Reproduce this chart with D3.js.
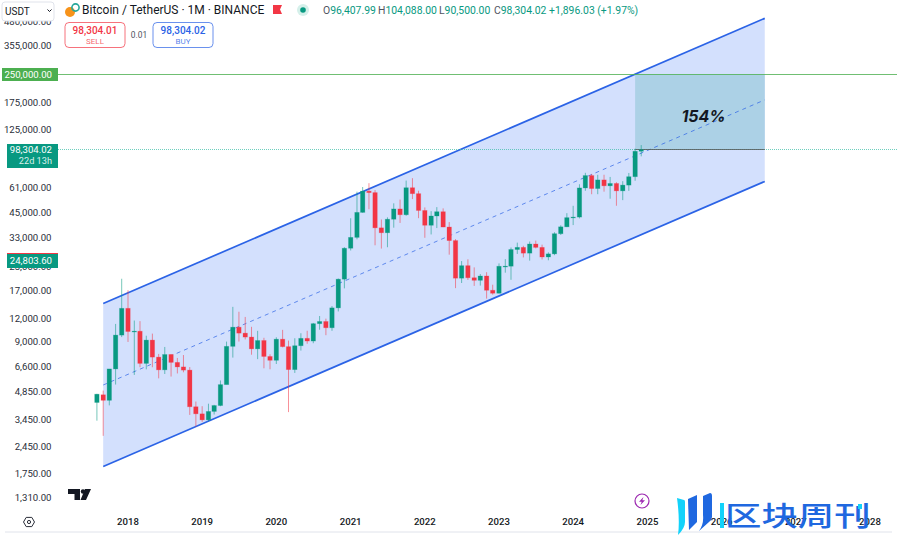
<!DOCTYPE html>
<html>
<head>
<meta charset="utf-8">
<script src="https://cdn.jsdelivr.net/npm/d3@7"></script>
<style>
  html, body { margin: 0; background: #fff; }
  svg { display: block; font-family: Roboto, "Liberation Sans", sans-serif; }
</style>
</head>
<body>
<svg id="chart" width="897" height="537"></svg>
<script>
// monthly candles, Aug 2017 to Dec 2024
const firstMonth = '2017-08-01';
const opens = [4261, 4689, 4378, 6463, 9837,
  13715, 10285, 10325, 6922, 9246, 7485, 6391, 7735, 7011, 6626, 6369, 4041,
  3701, 3434, 3814, 4102, 5320, 8555, 10854, 10080, 9600, 8293, 9199, 7546,
  7195, 9352, 8523, 6410, 8620, 9448, 9138, 11335, 11649, 10776, 13791, 19698,
  28923, 33092, 45134, 58739, 57697, 37253, 35045, 41461, 47100, 43820, 61299, 56950,
  46216, 38466, 43160, 45510, 37630, 31801, 19942, 23296, 20050, 19422, 20490, 17165,
  16541, 23125, 23141, 28465, 29233, 27210, 30472, 29232, 25940, 26963, 34639, 37723,
  42283, 42580, 61130, 71280, 60672, 67540, 62772, 64628, 58974, 63327, 70292, 96407.99];
const highs = [4745, 4939, 6448, 11300, 19798,
  17176, 11786, 11700, 9759, 10020, 7786, 8491, 7750, 7410, 7680, 6615, 4312,
  4069, 4198, 4140, 5600, 9074, 13970, 13147, 12325, 10905, 10370, 9513, 7750,
  9575, 10500, 9189, 9460, 10067, 10380, 11444, 12468, 12067, 14100, 19863, 29300,
  41950, 58352, 61844, 64854, 59500, 41330, 42448, 50500, 52920, 67000, 69000, 59053,
  47990, 45821, 48190, 47444, 40023, 32400, 24668, 25214, 22799, 20988, 21480, 18387,
  23960, 25250, 29184, 31000, 29820, 31431, 31804, 30244, 27483, 35280, 38450, 44700,
  48969, 64000, 73777, 72797, 71980, 71998, 70079, 65659, 66498, 73620, 99588, 104088];
const lows = [3400, 2817, 4110, 5325, 9600,
  9035, 6000, 6600, 6430, 6600, 5750, 6070, 5880, 6111, 6200, 3652, 3156,
  3349, 3373, 3670, 4067, 5350, 7440, 9080, 9320, 7710, 7300, 6515, 6435,
  6871, 8445, 3782, 6150, 8117, 8833, 8893, 10518, 9825, 10374, 13195, 17572,
  28130, 32296, 44950, 46930, 30000, 28805, 29278, 37332, 39600, 43283, 53256, 42000,
  32917, 34322, 37155, 37578, 26700, 17622, 18781, 19520, 18125, 18190, 15476, 16256,
  16499, 21351, 19549, 26942, 25811, 24800, 28861, 25166, 24901, 26538, 34097, 37615,
  38555, 41884, 59005, 56552, 56555, 58402, 53485, 49000, 52550, 58946, 66835, 90500];
const closes = [4724, 4378, 6463, 9838, 13716,
  10285, 10326, 6923, 9246, 7485, 6390, 7730, 7011, 6626, 6371, 4041, 3702,
  3434, 3813, 4103, 5320, 8555, 10854, 10080, 9600, 8293, 9199, 7546, 7195,
  9352, 8523, 6410, 8620, 9448, 9138, 11335, 11649, 10776, 13791, 19700, 28923,
  33092, 45135, 58740, 57694, 37253, 35045, 41461, 47100, 43824, 61299, 56950, 46216,
  38466, 43160, 45510, 37630, 31801, 19942, 23296, 20050, 19422, 20490, 17164, 16542,
  23125, 23141, 28465, 29233, 27210, 30472, 29232, 25940, 26963, 34639, 37723, 42283,
  42580, 61130, 71280, 60672, 67540, 62772, 64628, 58974, 63327, 70292, 96407, 98304.02];

const priceTicks = [480000, 355000, 250000, 175000, 125000, 61000, 45000, 33000, 23000, 17000, 12000, 9000, 6600, 4850, 3450, 2450, 1750, 1310];
const yearTicks = [2018, 2019, 2020, 2021, 2022, 2023, 2024, 2025, 2026, 2027, 2028];

// drawing tools, [date, price]
const channelTop = [['2017-09-01', 14565], ['2026-08-01', 501900]];
const channelMid = [['2017-09-01', 5294], ['2026-08-01', 182400]];
const channelBottom = [['2017-09-01', 1924], ['2026-08-01', 66300]];
const targetPrice = 250000;
const lastPrice = 98304.02;
const targetBox = { start: '2024-11-01', end: '2026-08-01', label: '154%' };

const UP = '#089981';
const DOWN = '#f23645';
const BLUE = '#2b63e6';

const parse = d3.utcParse('%Y-%m-%d');
const fmt = d3.format(',.2f');

const x = d3.scaleUtc()
  .domain([new Date(Date.UTC(2018, 0, 1)), new Date(Date.UTC(2028, 0, 1))])
  .range([128, 870]);
const y = d3.scaleLog()
  .domain([1310, 250000])
  .range([497.5, 74.5]);

const candles = opens.map((o, i) => {
  const date = d3.utcMonth.offset(parse(firstMonth), i);
  return { date, o, h: highs[i], l: lows[i], c: closes[i] };
});

const svg = d3.select('#chart');
const plot = svg.append('g');

// channel
const pt = (p) => [x(parse(p[0])), y(p[1])];
const poly = [pt(channelTop[0]), pt(channelTop[1]), pt(channelBottom[1]), pt(channelBottom[0])];
plot.append('polygon').attr('points', poly.join(' ')).attr('fill', '#d3e0fd');

// 154% box
plot.append('rect')
  .attr('x', x(parse(targetBox.start)))
  .attr('width', x(parse(targetBox.end)) - x(parse(targetBox.start)))
  .attr('y', y(targetPrice))
  .attr('height', y(lastPrice) - y(targetPrice))
  .attr('fill', '#acd1e6');

const line = d3.line().x((d) => pt(d)[0]).y((d) => pt(d)[1]);
plot.append('path').attr('d', line(channelTop)).attr('stroke', BLUE).attr('stroke-width', 1.7).attr('fill', 'none');
plot.append('path').attr('d', line(channelBottom)).attr('stroke', BLUE).attr('stroke-width', 1.7).attr('fill', 'none');
plot.append('path').attr('d', line(channelMid)).attr('stroke', BLUE).attr('stroke-width', 1)
  .attr('stroke-dasharray', '4 4').attr('stroke-opacity', 0.7).attr('fill', 'none');

// price lines
const snap = (v) => Math.floor(y(v)) + 0.5;
plot.append('line').attr('x1', 58).attr('x2', 897).attr('y1', snap(targetPrice)).attr('y2', snap(targetPrice))
  .attr('stroke', '#4caf50').attr('stroke-opacity', 0.8).attr('stroke-width', 1);
plot.append('line').attr('x1', 58).attr('x2', 897).attr('y1', snap(lastPrice)).attr('y2', snap(lastPrice))
  .attr('stroke', '#3dbfa8').attr('stroke-opacity', 0.75).attr('stroke-dasharray', '1 1');
plot.append('line').attr('x1', x(parse(targetBox.start))).attr('x2', x(parse(targetBox.end)))
  .attr('y1', snap(lastPrice)).attr('y2', snap(lastPrice))
  .attr('stroke', '#555').attr('stroke-opacity', 0.8);

// candles
const bw = 4.4;
const g = plot.append('g').selectAll('g').data(candles).join('g')
  .attr('stroke', (d) => (d.c >= d.o ? UP : DOWN))
  .attr('fill', (d) => (d.c >= d.o ? UP : DOWN));
g.append('line')
  .attr('x1', (d) => x(d.date)).attr('x2', (d) => x(d.date))
  .attr('y1', (d) => y(d.h)).attr('y2', (d) => y(d.l))
  .attr('stroke-opacity', 0.55).attr('stroke-width', 1);
g.append('rect')
  .attr('x', (d) => x(d.date) - bw / 2)
  .attr('width', bw)
  .attr('y', (d) => Math.min(y(d.o), y(d.c)))
  .attr('height', (d) => Math.max(0.8, Math.abs(y(d.o) - y(d.c))))
  .attr('stroke-opacity', 0.3).attr('stroke-width', 0.8);

plot.append('text').attr('x', 703.5).attr('y', 122).attr('text-anchor', 'middle')
  .attr('font-size', 16).attr('font-weight', 700).attr('font-style', 'italic')
  .attr('font-family', 'Inter, Roboto, sans-serif').attr('fill', '#131722')
  .text(targetBox.label);

// price axis labels
const yAxis = svg.append('g');
yAxis.selectAll('text').data(priceTicks).join('text')
  .attr('x', 51.5).attr('y', (d) => y(d) + 3).attr('text-anchor', 'end')
  .attr('font-size', 9.6).attr('fill', '#2a2e39').text((d) => fmt(d));

function priceTag(x0, y0, w, h, fill) {
  yAxis.append('rect').attr('x', x0).attr('y', y0).attr('width', w).attr('height', h).attr('fill', fill);
}
priceTag(2, 68, 56, 13, '#4caf50');
yAxis.append('text').attr('x', 52).attr('y', 77.5).attr('text-anchor', 'end').attr('font-size', 9.6)
  .attr('fill', '#fff').text(fmt(targetPrice));
priceTag(7, 144, 51, 24, UP);
yAxis.append('text').attr('x', 52).attr('y', 153).attr('text-anchor', 'end').attr('font-size', 9.6)
  .attr('fill', '#fff').text(fmt(lastPrice));
yAxis.append('text').attr('x', 52).attr('y', 164).attr('text-anchor', 'end').attr('font-size', 9.2)
  .attr('fill', '#d8f0ea').text('22d 13h');
priceTag(7, 253, 51, 15, UP);
priceTag(7, 253, 51, 1, DOWN);
yAxis.append('text').attr('x', 52).attr('y', 264).attr('text-anchor', 'end').attr('font-size', 9.6)
  .attr('fill', '#fff').text('24,803.60');

// time axis
svg.append('g').selectAll('text').data(yearTicks).join('text')
  .attr('x', (d) => x(new Date(Date.UTC(d, 0, 1)))).attr('y', 525).attr('text-anchor', 'middle')
  .attr('font-size', 9.6).attr('font-weight', 500).attr('fill', '#131722').text((d) => d);
svg.append('line').attr('x1', 5).attr('x2', 892).attr('y1', 532).attr('y2', 532).attr('stroke', '#e0e3eb');

// settings icon
const gear = svg.append('g').attr('transform', 'translate(29,522)').attr('fill', 'none').attr('stroke', '#2a2e39');
gear.append('polygon').attr('points', '-5.5,0 -2.8,-4.6 2.8,-4.6 5.5,0 2.8,4.6 -2.8,4.6');
gear.append('circle').attr('r', 1.6);

// TV logo
svg.append('path').attr('fill', '#131722')
  .attr('d', 'M68,489 H80 V500 H74.5 V494 H68 Z M85,489 H91 L86,500 H80.5 Z');
svg.append('circle').attr('cx', 83).attr('cy', 491.5).attr('r', 2.2).attr('fill', '#131722');

// lightning badge
const bolt = svg.append('g').attr('transform', 'translate(642,501)');
bolt.append('circle').attr('r', 7).attr('fill', '#fff').attr('stroke', '#9c27b0').attr('stroke-width', 1.2);
bolt.append('path').attr('d', 'M1.5,-4 L-3,0.8 H-0.3 L-1.5,4 L3,-0.8 H0.3 Z').attr('fill', '#9c27b0');

// header
const head = svg.append('g');
head.append('rect').attr('x', 2).attr('y', 2).attr('width', 52).attr('height', 19).attr('rx', 3)
  .attr('fill', '#fff').attr('stroke', '#e0e3eb');
head.append('text').attr('x', 5).attr('y', 14.5).attr('font-size', 10).attr('fill', '#131722').text('USDT');
head.append('path').attr('d', 'M47.5,9.5 L49.5,11.5 L51.5,9.5').attr('fill', 'none').attr('stroke', '#131722');
head.append('circle').attr('cx', 70).attr('cy', 12).attr('r', 5).attr('fill', '#f7931a');
head.append('circle').attr('cx', 75.5).attr('cy', 7.5).attr('r', 3.6).attr('fill', 'none').attr('stroke', '#26a69a').attr('stroke-width', 1.6);
head.append('text').attr('x', 82).attr('y', 14.2).attr('font-size', 12).attr('fill', '#131722')
  .text('Bitcoin / TetherUS · 1M · BINANCE');
head.append('path').attr('d', 'M273,5 H282 L280,9.5 L282,14 H273 Z').attr('fill', '#f23645');
head.append('circle').attr('cx', 303).attr('cy', 10).attr('r', 6).attr('fill', '#d5f0ea');
head.append('circle').attr('cx', 303).attr('cy', 10).attr('r', 2.8).attr('fill', UP);

const ohlc = [['O', '96,407.99', 323], ['H', '104,088.00', 378], ['L', '90,500.00', 439], ['C', '98,304.02', 494]];
ohlc.forEach(([k, v, px]) => {
  const t = head.append('text').attr('x', px).attr('y', 13.7).attr('font-size', 10.4).attr('fill', '#50535e');
  t.append('tspan').text(k);
  t.append('tspan').attr('fill', UP).text(v);
});
head.append('text').attr('x', 549).attr('y', 13.7).attr('font-size', 10.4).attr('fill', UP).text('+1,896.03 (+1.97%)');

// buy / sell boxes
function quote(x0, color, price, side) {
  head.append('rect').attr('x', x0).attr('y', 22.5).attr('width', 60).attr('height', 25).attr('rx', 4)
    .attr('fill', '#fff').attr('stroke', color).attr('stroke-opacity', 0.7);
  head.append('text').attr('x', x0 + 30).attr('y', 34).attr('text-anchor', 'middle').attr('font-size', 10)
    .attr('fill', color).attr('font-weight', 500).text(price);
  head.append('text').attr('x', x0 + 30).attr('y', 44).attr('text-anchor', 'middle').attr('font-size', 8)
    .attr('fill', color).attr('fill-opacity', 0.8).text(side);
}
quote(65, DOWN, '98,304.01', 'SELL');
quote(153, BLUE, '98,304.02', 'BUY');
head.append('text').attr('x', 139).attr('y', 38).attr('text-anchor', 'middle').attr('font-size', 8.4)
  .attr('fill', '#50535e').text('0.01');

// watermark
const wm = svg.append('g');
wm.append('path').attr('fill', '#12d2fa').attr('d', 'M677,498 L684,500 Q685,500 685,502 V522 Q685,528 678,535 Q680,520 677,498 Z');
wm.append('path').attr('fill', '#1f68e0').attr('d', 'M688,499 L697,495 V522 L689,530 Z');
wm.append('path').attr('fill', '#1f68e0').attr('d', 'M703,496 L710,493 Q712,493 712,496 V517 Q712,520 709,522 L699,531 Q704,524 703,515 Z');
wm.append('path').attr('fill', '#12d2fa').attr('d', 'M720,503 L724,503 L724,528 L720,528 Z');
wm.append('text').attr('transform', 'translate(725,525.5) scale(1.3,0.98)')
  .attr('font-family', '"Noto Sans CJK SC"').attr('font-weight', 500).attr('font-size', 28)
  .attr('fill', '#1f68e0').text('区块周刊');
wm.append('rect').attr('x', 858).attr('y', 504).attr('width', 4).attr('height', 5).attr('fill', '#12d2fa');
</script>
</body>
</html>
